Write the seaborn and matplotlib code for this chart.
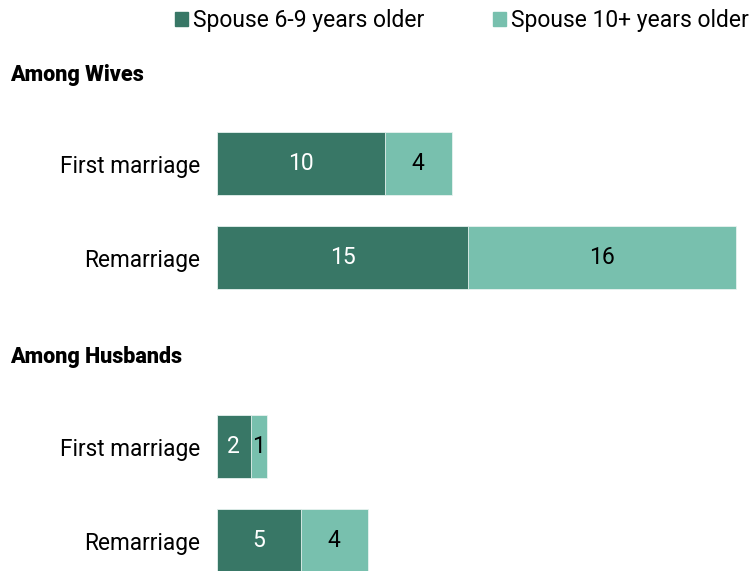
import matplotlib
matplotlib.use("Agg")
import matplotlib.pyplot as plt
import seaborn as sns
import pandas as pd
from matplotlib.patches import Patch

# дані
categories = ["First marriage", "Remarriage"]
wives_6_9 = [10, 15]
wives_10 = [4, 16]
husbands_6_9 = [2, 5]
husbands_10 = [1, 4]
series_names = ["Spouse 6-9 years older", "Spouse 10+ years older"]
groups = ["Among Wives", "Among Husbands"]

dark = "#387766"
light = "#78c0ae"

sns.set_style("white")
plt.rcParams["font.family"] = ["Roboto", "DejaVu Sans"]
plt.rcParams["text.color"] = "black"
plt.rcParams["ytick.color"] = "black"

fig = plt.figure(figsize=(7.53, 5.71), dpi=100)
W, H = 753, 571
left = 217 / W
width = 536 / W

ax_w = fig.add_axes([left, (H - 304.5) / H, width, 188 / H])
ax_h = fig.add_axes([left, 0, width, 171.5 / H])


def draw(ax, a, b, ylim):
    df = pd.DataFrame({"cat": categories, "a": a, "b": b})
    df["total"] = df["a"] + df["b"]
    sns.barplot(data=df, x="total", y="cat", color=light, saturation=1,
                width=0.67, ax=ax, edgecolor="#e8f3f0", linewidth=0.6)
    sns.barplot(data=df, x="a", y="cat", color=dark, saturation=1,
                width=0.67, ax=ax, edgecolor="#e8f3f0", linewidth=0.6)
    for i, row in df.iterrows():
        ax.text(row["a"] / 2, i, str(row["a"]), ha="center", va="center",
                color="white", fontsize=16.5)
        ax.text(row["a"] + row["b"] / 2, i, str(row["b"]), ha="center",
                va="center", color="black", fontsize=16.5)
    ax.set_xlim(0, 32)
    ax.set_ylim(*ylim)
    ax.set_xlabel("")
    ax.set_ylabel("")
    ax.set_xticks([])
    ax.tick_params(axis="y", length=0, labelsize=16.3, pad=12,
                   labelcolor="black")
    sns.despine(ax=ax, left=True, bottom=True)


draw(ax_w, wives_6_9, wives_10, (1.5, -0.5))
draw(ax_h, husbands_6_9, husbands_10, (1.324, -0.5))

fig.text(10 / W, 1 - 75 / H, groups[0], fontsize=15.5, fontweight="heavy",
         va="center", ha="left")
fig.text(10 / W, 1 - 357 / H, groups[1], fontsize=15.5, fontweight="heavy",
         va="center", ha="left")

handles = [Patch(color=dark, label=series_names[0]),
           Patch(color=light, label=series_names[1])]
fig.legend(handles=handles, loc="upper right", bbox_to_anchor=(1.022, 1.02),
           ncol=2, frameon=False, fontsize=16.5, handlelength=0.57,
           handleheight=0.57, handletextpad=0.22, columnspacing=3.0)

fig.savefig("out.png", dpi=100)
